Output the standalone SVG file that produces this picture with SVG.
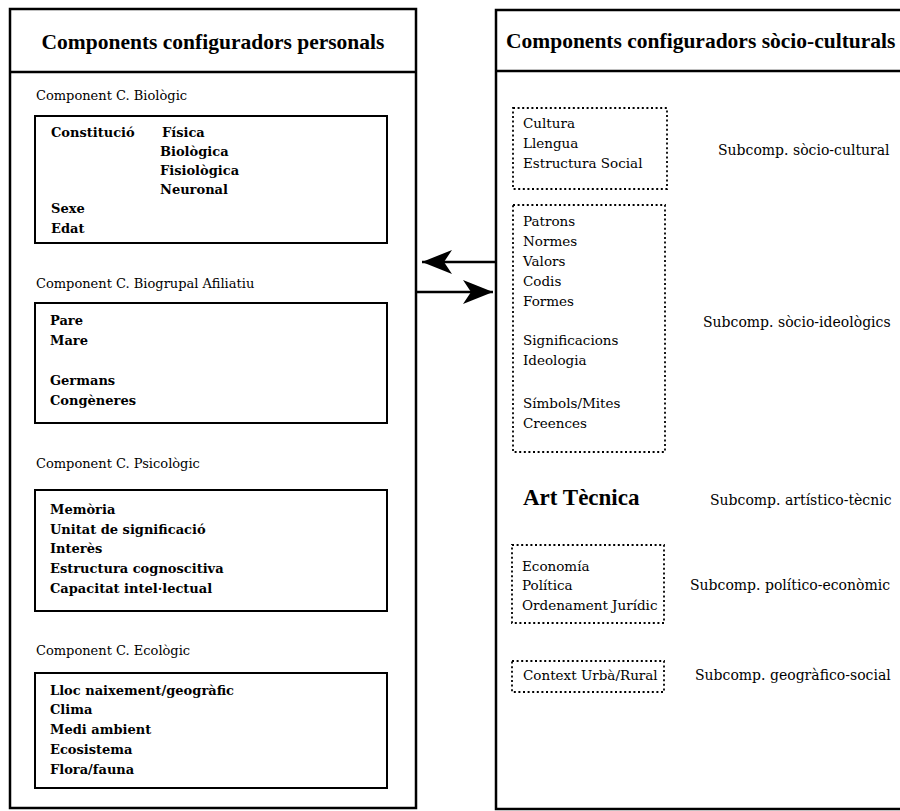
<svg xmlns="http://www.w3.org/2000/svg" width="900" height="811" viewBox="0 0 900 811">
<defs>
<style>
.panel{fill:none;stroke:#000;stroke-width:2.5}
.solid{fill:none;stroke:#000;stroke-width:2}
.dotted{fill:none;stroke:#000;stroke-width:1.8;stroke-dasharray:2 2.6}
.title{font-family:"Liberation Serif","Times New Roman",serif;font-weight:bold;font-size:21.5px;fill:#000}
.lbl{font-family:"DejaVu Serif",serif;font-size:13px;fill:#000}
.item{font-family:"DejaVu Serif",serif;font-size:13px;font-weight:bold;fill:#000}
.ritem{font-family:"DejaVu Serif",serif;font-size:13.5px;fill:#000}
.sub{font-family:"DejaVu Serif",serif;font-size:14px;fill:#000}
.big{font-family:"Liberation Serif","Times New Roman",serif;font-weight:bold;font-size:23px;fill:#000}
.conn{stroke:#000;stroke-width:2.5;fill:none}
</style>
<marker id="barb" markerUnits="userSpaceOnUse" markerWidth="32" markerHeight="26" refX="30" refY="13" orient="auto">
<path d="M0,1 L30,13 L0,25 L8,13 Z" fill="#000"/>
</marker>
</defs>
<rect width="900" height="811" fill="#fff"/>

<g id="personal-panel">
<rect class="panel" x="10" y="9" width="406" height="799"/>
<line class="panel" x1="10" y1="72" x2="416" y2="72"/>
<text class="title" x="213" y="49" text-anchor="middle">Components configuradors personals</text>
</g>

<g id="biologic">
<text class="lbl" x="36" y="100">Component C. Biològic</text>
<rect class="solid" x="35" y="116" width="352" height="127"/>
<text class="item" x="51" y="137">Constitució</text>
<text class="item" x="162" y="137">Física</text>
<text class="item" x="160" y="156">Biològica</text>
<text class="item" x="160" y="175">Fisiològica</text>
<text class="item" x="160" y="194">Neuronal</text>
<text class="item" x="51" y="213">Sexe</text>
<text class="item" x="51" y="233">Edat</text>
</g>

<g id="biogrupal">
<text class="lbl" x="36" y="288">Component C. Biogrupal Afiliatiu</text>
<rect class="solid" x="35" y="303" width="352" height="120"/>
<text class="item" x="50" y="325">Pare</text>
<text class="item" x="50" y="345">Mare</text>
<text class="item" x="50" y="385">Germans</text>
<text class="item" x="50" y="405">Congèneres</text>
</g>

<g id="psicologic">
<text class="lbl" x="36" y="468">Component C. Psicològic</text>
<rect class="solid" x="35" y="490" width="352" height="121"/>
<text class="item" x="50" y="514">Memòria</text>
<text class="item" x="50" y="534">Unitat de significació</text>
<text class="item" x="50" y="553">Interès</text>
<text class="item" x="50" y="573">Estructura cognoscitiva</text>
<text class="item" x="50" y="593">Capacitat intel·lectual</text>
</g>

<g id="ecologic">
<text class="lbl" x="36" y="655">Component C. Ecològic</text>
<rect class="solid" x="35" y="673" width="352" height="115"/>
<text class="item" x="50" y="695">Lloc naixement/geogràfic</text>
<text class="item" x="50" y="714">Clima</text>
<text class="item" x="50" y="734">Medi ambient</text>
<text class="item" x="50" y="754">Ecosistema</text>
<text class="item" x="50" y="774">Flora/fauna</text>
</g>

<g id="sociocultural-panel">
<rect class="panel" x="496" y="10" width="420" height="799"/>
<line class="panel" x1="496" y1="71" x2="900" y2="71"/>
<text class="title" x="506" y="48">Components configuradors sòcio-culturals</text>
</g>

<g id="subcomp-socio-cultural">
<rect class="dotted" x="513" y="108" width="154" height="81"/>
<text class="ritem" x="523" y="128">Cultura</text>
<text class="ritem" x="523" y="148">Llengua</text>
<text class="ritem" x="523" y="168">Estructura Social</text>
<text class="sub" x="718" y="155">Subcomp. sòcio-cultural</text>
</g>

<g id="subcomp-socio-ideologic">
<rect class="dotted" x="513" y="205" width="152" height="247"/>
<text class="ritem" x="523" y="226">Patrons</text>
<text class="ritem" x="523" y="246">Normes</text>
<text class="ritem" x="523" y="266">Valors</text>
<text class="ritem" x="523" y="286">Codis</text>
<text class="ritem" x="523" y="306">Formes</text>
<text class="ritem" x="523" y="345">Significacions</text>
<text class="ritem" x="523" y="365">Ideologia</text>
<text class="ritem" x="523" y="408">Símbols/Mites</text>
<text class="ritem" x="523" y="428">Creences</text>
<text class="sub" x="703" y="327">Subcomp. sòcio-ideològics</text>
</g>

<g id="subcomp-artistic-tecnic">
<text class="big" x="523" y="505">Art Tècnica</text>
<text class="sub" x="710" y="505">Subcomp. artístico-tècnic</text>
</g>

<g id="subcomp-politic-economic">
<rect class="dotted" x="512" y="545" width="152" height="78"/>
<text class="ritem" x="522" y="571">Economía</text>
<text class="ritem" x="522" y="590">Política</text>
<text class="ritem" x="522" y="610">Ordenament Jurídic</text>
<text class="sub" x="690" y="590">Subcomp. político-econòmic</text>
</g>

<g id="subcomp-geografic-social">
<rect class="dotted" x="512" y="661" width="152" height="31"/>
<text class="ritem" x="523" y="680">Context Urbà/Rural</text>
<text class="sub" x="695" y="680">Subcomp. geogràfico-social</text>
</g>

<g id="connectors">
<line class="conn" x1="497" y1="262" x2="422" y2="262" marker-end="url(#barb)"/>
<line class="conn" x1="416" y1="292" x2="493" y2="292" marker-end="url(#barb)"/>
</g>
</svg>
